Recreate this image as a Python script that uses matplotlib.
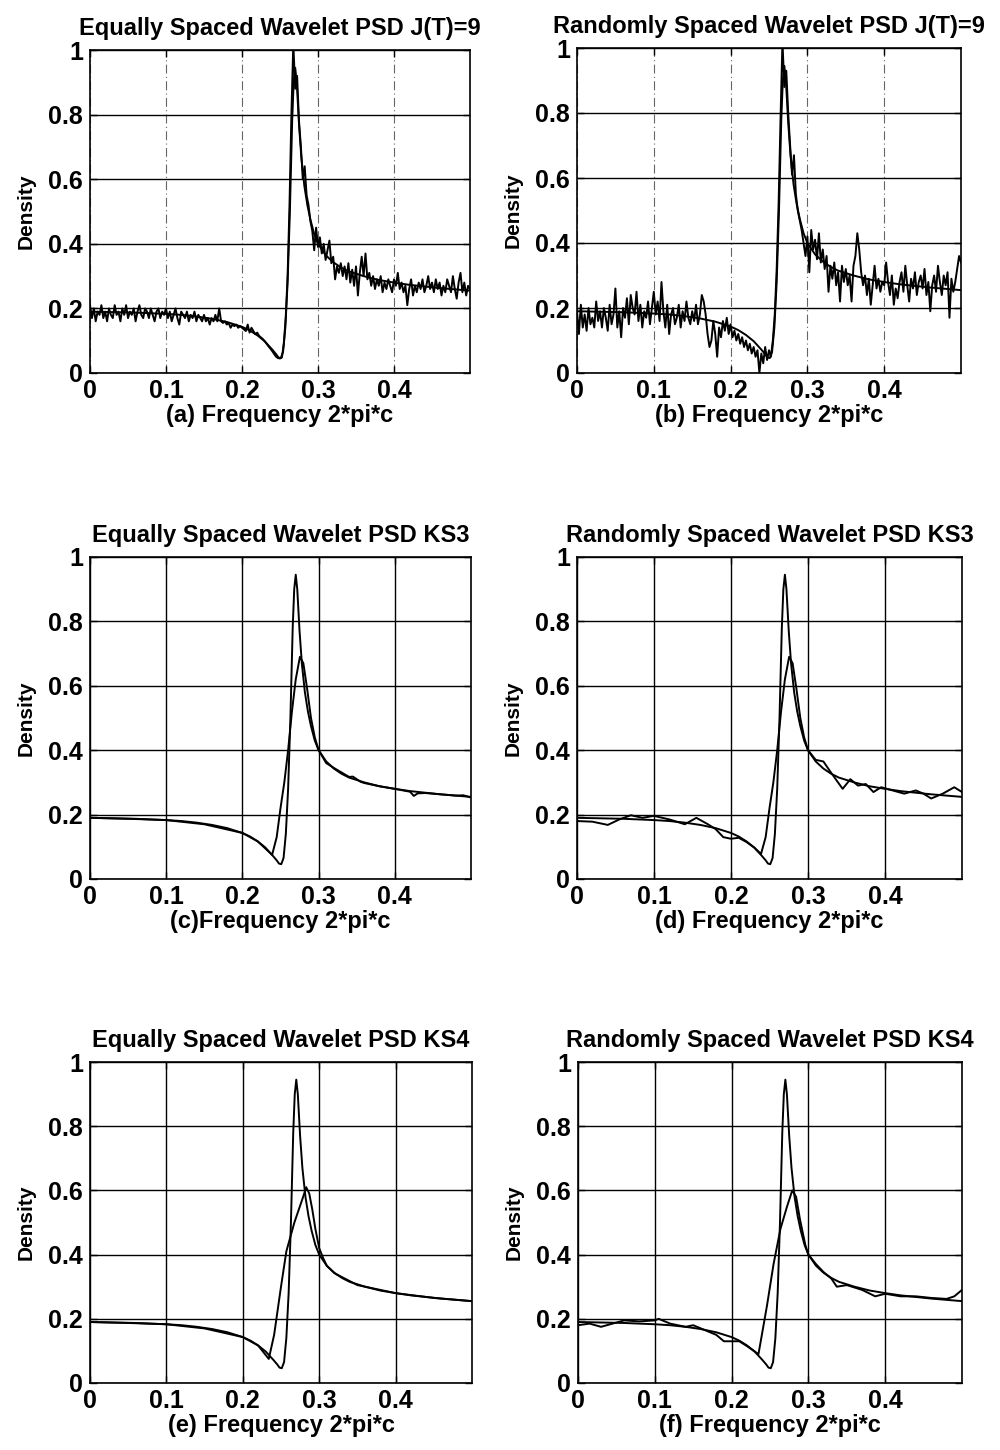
import numpy as np
import matplotlib
matplotlib.use("Agg")
import matplotlib.pyplot as plt

plt.rcParams['font.family'] = ['Liberation Sans', 'DejaVu Sans']

# ---------------- data ----------------
# true spectral density (shared by all panels)
true_freq = [0, 0.02, 0.04, 0.06, 0.08, 0.10, 0.12, 0.14, 0.16, 0.18, 0.20, 0.21, 0.22, 0.23,
             0.24, 0.245, 0.248, 0.251, 0.254, 0.257, 0.260, 0.263, 0.266, 0.268, 0.270, 0.272,
             0.275, 0.278, 0.282, 0.286, 0.290, 0.295, 0.300, 0.31, 0.32, 0.33, 0.34, 0.36,
             0.38, 0.40, 0.42, 0.44, 0.46, 0.48, 0.50]
true_density = [0.190, 0.189, 0.188, 0.187, 0.185, 0.183, 0.180, 0.175, 0.168, 0.158, 0.143, 0.132,
                0.117, 0.098, 0.072, 0.058, 0.048, 0.046, 0.065, 0.14, 0.28, 0.50, 0.78, 0.90,
                0.945, 0.90, 0.77, 0.67, 0.58, 0.52, 0.475, 0.43, 0.40, 0.365, 0.343, 0.327,
                0.315, 0.300, 0.288, 0.280, 0.273, 0.268, 0.263, 0.259, 0.255]

# raw wavelet estimates, J(T)=9, on a grid of step 0.0025 (0 .. 0.5)
eq_j9 = [
    0.21, 0.17, 0.20, 0.16, 0.19, 0.18, 0.21, 0.17, 0.19, 0.16,
    0.20, 0.18, 0.17, 0.21, 0.18, 0.19, 0.16, 0.20, 0.18, 0.21,
    0.17, 0.19, 0.18, 0.20, 0.16, 0.19, 0.21, 0.18, 0.17, 0.20,
    0.19, 0.17, 0.20, 0.18, 0.16, 0.19, 0.20, 0.17, 0.19, 0.18,
    0.20, 0.17, 0.19, 0.16, 0.18, 0.20, 0.17, 0.15, 0.19, 0.18,
    0.17, 0.19, 0.16, 0.18, 0.17, 0.19, 0.16, 0.18, 0.17, 0.16,
    0.18, 0.16, 0.17, 0.15, 0.17, 0.16, 0.18, 0.16, 0.20, 0.16,
    0.155, 0.16, 0.15, 0.155, 0.14, 0.15, 0.145, 0.15, 0.14, 0.145,
    0.14, 0.135, 0.13, 0.15, 0.125, 0.14, 0.13, 0.12, 0.125, 0.115,
    0.11, 0.105, 0.098, 0.09, 0.082, 0.075, 0.067, 0.058, 0.05, 0.046,
    0.045, 0.048, 0.09, 0.17, 0.30, 0.52, 0.80, 1.02, 0.88, 0.92,
    0.78, 0.70, 0.60, 0.64, 0.55, 0.52, 0.47, 0.44, 0.38, 0.45,
    0.39, 0.42, 0.37, 0.40, 0.35, 0.38, 0.41, 0.34, 0.36, 0.29,
    0.33, 0.31, 0.34, 0.30, 0.33, 0.29, 0.34, 0.28, 0.32, 0.27,
    0.33, 0.24, 0.31, 0.36, 0.30, 0.37, 0.29, 0.31, 0.27, 0.30,
    0.26, 0.29, 0.27, 0.30, 0.25, 0.28, 0.26, 0.29, 0.27, 0.25,
    0.29, 0.27, 0.31, 0.26, 0.28, 0.25, 0.27, 0.21, 0.26, 0.29,
    0.24, 0.27, 0.25, 0.28, 0.26, 0.29, 0.25, 0.27, 0.30, 0.26,
    0.28, 0.25, 0.29, 0.26, 0.28, 0.24, 0.27, 0.25, 0.29, 0.27,
    0.25, 0.30, 0.26, 0.23, 0.28, 0.31, 0.25, 0.28, 0.24, 0.27,
    0.26]

rand_j9 = [
    0.19, 0.12, 0.21, 0.14, 0.18, 0.13, 0.20, 0.15, 0.17, 0.14,
    0.22, 0.16, 0.19, 0.14, 0.20, 0.17, 0.13, 0.21, 0.15, 0.18,
    0.26, 0.14, 0.19, 0.11, 0.20, 0.17, 0.23, 0.15, 0.24, 0.20,
    0.18, 0.25, 0.16, 0.21, 0.14, 0.19, 0.17, 0.22, 0.15, 0.20,
    0.25, 0.18, 0.22, 0.16, 0.28, 0.19, 0.14, 0.21, 0.12, 0.18,
    0.20, 0.15, 0.17, 0.21, 0.14, 0.19, 0.16, 0.22, 0.17, 0.15,
    0.19, 0.16, 0.21, 0.15, 0.18, 0.24, 0.22, 0.18, 0.12, 0.08,
    0.10, 0.16, 0.12, 0.05, 0.14, 0.11, 0.16, 0.13, 0.17, 0.12,
    0.15, 0.11, 0.13, 0.10, 0.12, 0.09, 0.11, 0.08, 0.10, 0.07,
    0.09, 0.06, 0.08, 0.05, 0.07, 0.00, 0.06, 0.03, 0.08, 0.04,
    0.07, 0.05, 0.10, 0.18, 0.32, 0.52, 0.78, 1.02, 0.88, 0.93,
    0.80, 0.70, 0.61, 0.67, 0.55, 0.50, 0.47, 0.44, 0.40, 0.36,
    0.42, 0.31, 0.44, 0.38, 0.41, 0.35, 0.43, 0.34, 0.38, 0.32,
    0.36, 0.25, 0.33, 0.29, 0.34, 0.27, 0.31, 0.22, 0.33, 0.28,
    0.32, 0.27, 0.30, 0.22, 0.33, 0.36, 0.43, 0.38, 0.31, 0.27,
    0.30, 0.24, 0.29, 0.21, 0.27, 0.33, 0.26, 0.29, 0.25, 0.28,
    0.27, 0.34, 0.28, 0.24, 0.30, 0.21, 0.26, 0.23, 0.28, 0.31,
    0.25, 0.33, 0.27, 0.22, 0.29, 0.26, 0.31, 0.24, 0.28, 0.30,
    0.26, 0.32, 0.24, 0.28, 0.19, 0.27, 0.30, 0.25, 0.33, 0.28,
    0.24, 0.30, 0.27, 0.31, 0.17, 0.29, 0.25, 0.28, 0.32, 0.36,
    0.34]

# smoothed estimates
eq_ks3_freq = [0, 0.05, 0.10, 0.15, 0.20, 0.22, 0.239, 0.245, 0.25, 0.255, 0.26, 0.265, 0.27,
               0.2755, 0.28, 0.285, 0.29, 0.295, 0.30, 0.31, 0.32, 0.34, 0.345, 0.35, 0.355,
               0.36, 0.37, 0.38, 0.40, 0.42, 0.425, 0.43, 0.44, 0.46, 0.48, 0.49, 0.50]
eq_ks3_density = [0.19, 0.187, 0.183, 0.170, 0.143, 0.117, 0.075, 0.13, 0.22, 0.30, 0.40, 0.52,
                  0.62, 0.69, 0.67, 0.59, 0.50, 0.44, 0.40, 0.36, 0.345, 0.317, 0.318, 0.31,
                  0.302, 0.298, 0.293, 0.288, 0.280, 0.271, 0.258, 0.266, 0.267, 0.263, 0.259,
                  0.26, 0.253]

rand_ks3_freq = [0, 0.02, 0.04, 0.055, 0.07, 0.085, 0.10, 0.12, 0.14, 0.155, 0.17, 0.18, 0.19,
                 0.20, 0.21, 0.22, 0.23, 0.239, 0.245, 0.25, 0.255, 0.26, 0.265, 0.27, 0.2755,
                 0.28, 0.285, 0.29, 0.295, 0.30, 0.31, 0.32, 0.33, 0.345, 0.355, 0.365, 0.375,
                 0.385, 0.395, 0.41, 0.425, 0.44, 0.45, 0.46, 0.475, 0.49, 0.50]
rand_ks3_density = [0.18, 0.178, 0.168, 0.185, 0.198, 0.19, 0.196, 0.185, 0.17, 0.19, 0.17,
                    0.155, 0.13, 0.125, 0.128, 0.115, 0.098, 0.078, 0.13, 0.22, 0.30, 0.40,
                    0.52, 0.62, 0.69, 0.67, 0.59, 0.50, 0.44, 0.40, 0.37, 0.365, 0.33, 0.28,
                    0.31, 0.29, 0.295, 0.27, 0.285, 0.275, 0.265, 0.275, 0.265, 0.25, 0.265,
                    0.285, 0.27]

eq_ks4_freq = [0, 0.05, 0.10, 0.15, 0.20, 0.22, 0.234, 0.241, 0.25, 0.257, 0.2675, 0.279,
               0.283, 0.287, 0.291, 0.295, 0.30, 0.305, 0.31, 0.32, 0.35, 0.40, 0.45, 0.50]
eq_ks4_density = [0.19, 0.187, 0.183, 0.170, 0.143, 0.117, 0.075, 0.15, 0.30, 0.41, 0.50, 0.58,
                  0.61, 0.59, 0.54, 0.48, 0.42, 0.39, 0.365, 0.342, 0.305, 0.280, 0.265, 0.255]

rand_ks4_freq = [0, 0.015, 0.03, 0.045, 0.06, 0.08, 0.10, 0.105, 0.12, 0.14, 0.15, 0.165, 0.18,
                 0.19, 0.20, 0.21, 0.22, 0.235, 0.246, 0.2546, 0.2636, 0.2722, 0.279, 0.284,
                 0.289, 0.296, 0.30, 0.31, 0.32, 0.33, 0.337, 0.35, 0.37, 0.387, 0.40, 0.42,
                 0.44, 0.46, 0.48, 0.49, 0.50]
rand_ks4_density = [0.18, 0.185, 0.175, 0.185, 0.195, 0.192, 0.195, 0.2, 0.185, 0.175, 0.18,
                    0.165, 0.15, 0.13, 0.13, 0.13, 0.115, 0.09, 0.24, 0.37, 0.48, 0.55, 0.60,
                    0.58, 0.51, 0.43, 0.40, 0.37, 0.345, 0.325, 0.30, 0.305, 0.29, 0.27, 0.278,
                    0.27, 0.27, 0.265, 0.262, 0.27, 0.29]

titles = ["Equally Spaced Wavelet PSD J(T)=9", "Randomly Spaced Wavelet PSD J(T)=9",
          "Equally Spaced Wavelet PSD KS3", "Randomly Spaced Wavelet PSD KS3",
          "Equally Spaced Wavelet PSD KS4", "Randomly Spaced Wavelet PSD KS4"]
xlabels = ["(a) Frequency 2*pi*c", "(b) Frequency 2*pi*c", "(c)Frequency 2*pi*c",
           "(d) Frequency 2*pi*c", "(e) Frequency 2*pi*c", "(f) Frequency 2*pi*c"]
xticks = [0, 0.1, 0.2, 0.3, 0.4]
xticklabels = ["0", "0.1", "0.2", "0.3", "0.4"]
yticks = [0, 0.2, 0.4, 0.6, 0.8, 1.0]
yticklabels = ["0", "0.2", "0.4", "0.6", "0.8", "1"]

grid_freq = np.linspace(0, 0.5, len(eq_j9))
estimates = [(grid_freq, eq_j9), (grid_freq, rand_j9),
             (eq_ks3_freq, eq_ks3_density), (rand_ks3_freq, rand_ks3_density),
             (eq_ks4_freq, eq_ks4_density), (rand_ks4_freq, rand_ks4_density)]

# ---------------- layout ----------------
fig = plt.figure(figsize=(10, 14.5), dpi=100)
H = 1450.0
rects = [
    (90, 50, 380, 323), (577, 48, 384, 325),
    (90, 557, 381, 322), (577, 557, 385, 322),
    (90, 1062, 382, 321), (578, 1062, 384, 321),
]
for k, (l, t, w, h) in enumerate(rects):
    ax = fig.add_axes([l / 1000.0, (H - t - h) / H, w / 1000.0, h / H])
    ax.set_xlim(0, 0.5)
    ax.set_ylim(0, 1)
    ax.set_xticks(xticks)
    ax.set_xticklabels(xticklabels, fontsize=18, fontweight='bold')
    ax.set_yticks(yticks)
    ax.set_yticklabels(yticklabels, fontsize=18, fontweight='bold')
    ax.tick_params(direction='in', length=5, width=1, pad=5, top=True, right=True)
    ax.tick_params(axis='x', pad=4)
    for s in ax.spines.values():
        s.set_linewidth(1.2)
    # grid
    if k < 2:
        ax.grid(axis='y', color='black', linewidth=1.0, linestyle='-')
        ax.grid(axis='x', color='0.4', linewidth=0.8, linestyle=(0, (8, 3, 1, 3)))
    else:
        ax.grid(True, color='black', linewidth=1.0, linestyle='-')
    ax.set_axisbelow(True)

    ax.plot(true_freq, true_density, color='black', linewidth=1.4, clip_on=True)
    ex, ey = estimates[k]
    ax.plot(ex, ey, color='black', linewidth=1.4, clip_on=True)

    ax.set_title(titles[k], fontsize=17, fontweight='bold', pad=11)
    ax.set_xlabel(xlabels[k], fontsize=17, fontweight='bold', labelpad=1)
    ax.set_ylabel("Density", fontsize=15, fontweight='bold', labelpad=9)

fig.savefig("out.png", dpi=100, facecolor='white')
